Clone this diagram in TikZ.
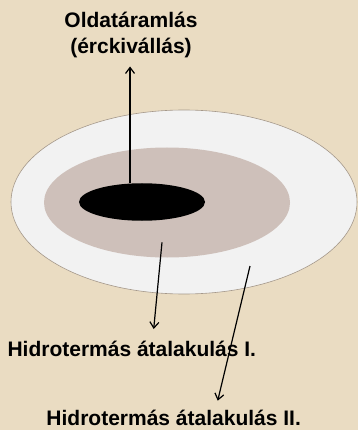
\documentclass[tikz,border=0pt]{standalone}
\usepackage{fontspec}
\setmainfont{Liberation Sans}
\usetikzlibrary{shapes.geometric,arrows.meta}
\definecolor{bgc}{RGB}{234,220,194}
\definecolor{outerc}{RGB}{242,242,242}
\definecolor{outerb}{RGB}{165,152,138}
\definecolor{midc}{RGB}{206,192,186}
\tikzset{
  zone/.style={ellipse, inner sep=0pt},
  lbl/.style={font=\fontsize{21}{26}\selectfont\bfseries, inner sep=0pt},
  lbl2/.style={lbl, align=center},
  arr/.style={-{Straight Barb[length=6pt,width=9pt]}, line width=1.2pt, black}
}
\begin{document}
\begin{tikzpicture}[x=1pt,y=-1pt]
\fill[bgc] (0,0) rectangle (358,430);
\useasboundingbox (0,0) rectangle (358,430);
\node[zone, fill=outerc, draw=outerb, line width=0.6pt, minimum width=346pt, minimum height=184pt] (outer) at (184,202) {};
\node[zone, fill=midc, minimum width=246pt, minimum height=110pt] (middle) at (167,202.5) {};
\node[zone, fill=black, minimum width=126pt, minimum height=37.5pt] (core) at (142,202) {};
\node[lbl2, anchor=base] (top) at (131,53.3) {Oldatáramlás\\(érckivállás)};
\node[lbl, anchor=base west] (h1) at (7.3,356.7) {Hidrotermás átalakulás I.};
\node[lbl, anchor=base] (h2) at (173.7,425.8) {Hidrotermás átalakulás II.};
\coordinate (upS) at (130,183.5);
\coordinate (upE) at (130,66.5);
\coordinate (aS) at (162,242.3);
\coordinate (aE) at (153.7,329);
\coordinate (bS) at (250,266);
\coordinate (bE) at (217.7,400.7);
\draw[arr] (upS) -- (upE);
\draw[arr] (aS) -- (aE);
\draw[arr] (bS) -- (bE);
\end{tikzpicture}
\end{document}
